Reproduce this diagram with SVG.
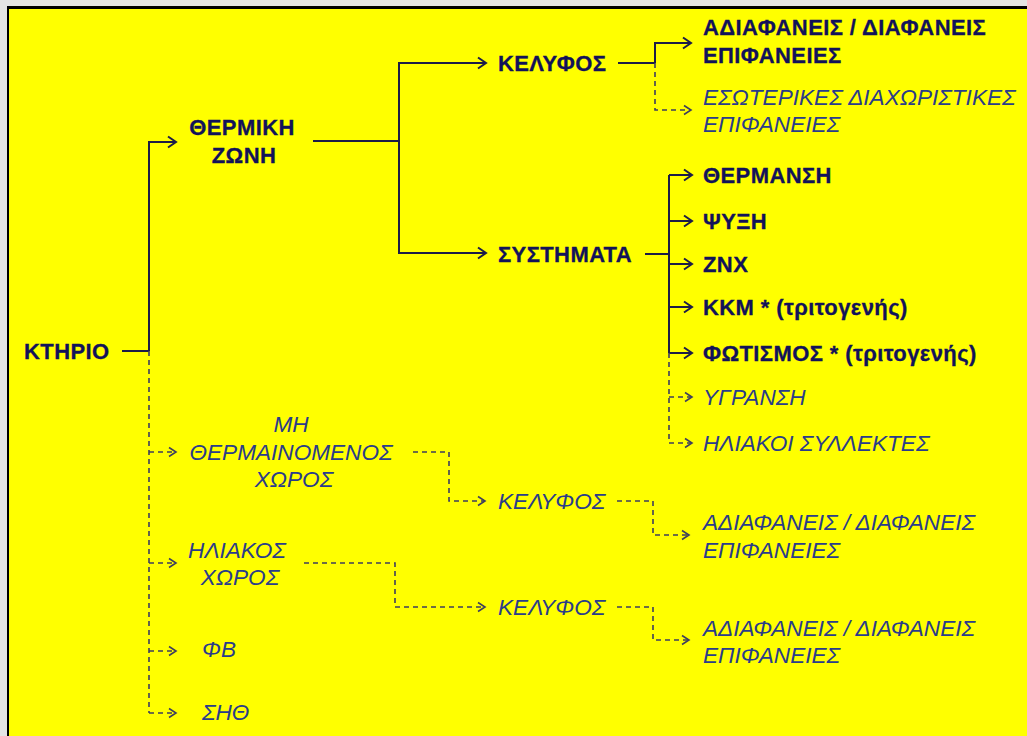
<svg xmlns="http://www.w3.org/2000/svg" width="1027" height="736" viewBox="0 0 1027 736">
<style>
.b{font-family:"Liberation Sans",Arial,sans-serif;font-weight:bold;font-size:22px;letter-spacing:0.4px;fill:#12125a;stroke:#12125a;stroke-width:0.3px}
.i{font-family:"Liberation Sans",Arial,sans-serif;font-style:italic;font-size:22.6px;fill:#2a3c8a}
.s{fill:none;stroke:#1c1c48;stroke-width:2}
.d{fill:none;stroke:#3e3e5e;stroke-width:1.6;stroke-dasharray:5,4}
.sa{marker-end:url(#as)}
.da{marker-end:url(#ad)}
</style>
<defs>
<marker id="as" markerUnits="userSpaceOnUse" markerWidth="12" markerHeight="14" refX="9" refY="6" orient="auto" overflow="visible">
<path d="M1,0.5 L9,6 L1,11.5" fill="none" stroke="#1c1c48" stroke-width="2"/>
</marker>
<marker id="ad" markerUnits="userSpaceOnUse" markerWidth="12" markerHeight="14" refX="8" refY="5" orient="auto" overflow="visible">
<path d="M1,0.5 L8,5 L1,9.5" fill="none" stroke="#3e3e5e" stroke-width="1.6"/>
</marker>
</defs>
<rect x="0" y="0" width="1027" height="736" fill="#e4e4e4"/>
<rect x="7" y="6" width="1020" height="730" fill="#000"/>
<rect x="9" y="9" width="1018" height="727" fill="#ffff00"/>

<g id="connectors">
<path class="s" d="M122,351 H149"/>
<path class="s sa" d="M149,351 V142 H176"/>
<path class="d" d="M149,351 V713"/>
<path class="d da" d="M149,452 H176"/>
<path class="d da" d="M149,563 H176"/>
<path class="d da" d="M149,651 H176"/>
<path class="d da" d="M149,713 H176"/>
<path class="s" d="M313,141 H399"/>
<path class="s sa" d="M399,141 V63 H486"/>
<path class="s sa" d="M399,141 V253 H486"/>
<path class="s" d="M618,63 H655"/>
<path class="s sa" d="M655,63 V43 H691"/>
<path class="d da" d="M655,63 V110 H691"/>
<path class="s" d="M645,254 H669"/>
<path class="s" d="M669,175 V353"/>
<path class="s sa" d="M669,175 H692"/>
<path class="s sa" d="M669,221 H692"/>
<path class="s sa" d="M669,264 H692"/>
<path class="s sa" d="M669,307 H692"/>
<path class="s sa" d="M669,353 H692"/>
<path class="d" d="M669,353 V443"/>
<path class="d da" d="M669,397 H692"/>
<path class="d da" d="M669,443 H692"/>
<path class="d da" d="M413,452 H449 V501 H485"/>
<path class="d" d="M617,501 H653"/>
<path class="d da" d="M653,501 V535 H689"/>
<path class="d da" d="M304,563 H395 V607 H485"/>
<path class="d" d="M617,607 H653"/>
<path class="d da" d="M653,607 V640 H689"/>
</g>

<g id="ktirio"><text class="b" x="24" y="359">ΚΤΗΡΙΟ</text></g>
<g id="thermiki-zoni"><text class="b" x="242" y="135" text-anchor="middle">ΘΕΡΜΙΚΗ</text><text class="b" x="244" y="163" text-anchor="middle">ΖΩΝΗ</text></g>
<g id="kelyfos"><text class="b" x="498" y="71">ΚΕΛΥΦΟΣ</text></g>
<g id="systimata"><text class="b" x="498" y="262">ΣΥΣΤΗΜΑΤΑ</text></g>
<g id="adiafaneis"><text class="b" x="703" y="35">ΑΔΙΑΦΑΝΕΙΣ / ΔΙΑΦΑΝΕΙΣ</text><text class="b" x="703" y="63">ΕΠΙΦΑΝΕΙΕΣ</text></g>
<g id="esoterikes"><text class="i" x="703" y="105">ΕΣΩΤΕΡΙΚΕΣ ΔΙΑΧΩΡΙΣΤΙΚΕΣ</text><text class="i" x="703" y="132">ΕΠΙΦΑΝΕΙΕΣ</text></g>
<g id="thermansi"><text class="b" x="703" y="183">ΘΕΡΜΑΝΣΗ</text></g>
<g id="psyxi"><text class="b" x="703" y="229">ΨΥΞΗ</text></g>
<g id="znx"><text class="b" x="703" y="272">ΖΝΧ</text></g>
<g id="kkm"><text class="b" x="703" y="315">ΚΚΜ * (τριτογενής)</text></g>
<g id="fotismos"><text class="b" x="703" y="361">ΦΩΤΙΣΜΟΣ * (τριτογενής)</text></g>
<g id="ygransi"><text class="i" x="703" y="405">ΥΓΡΑΝΣΗ</text></g>
<g id="iliakoi-syllektes"><text class="i" x="703" y="451">ΗΛΙΑΚΟΙ ΣΥΛΛΕΚΤΕΣ</text></g>
<g id="mi-thermainomenos"><text class="i" x="291" y="432" text-anchor="middle">ΜΗ</text><text class="i" x="291" y="460" text-anchor="middle">ΘΕΡΜΑΙΝΟΜΕΝΟΣ</text><text class="i" x="294" y="487" text-anchor="middle">ΧΩΡΟΣ</text></g>
<g id="kelyfos-2"><text class="i" x="498" y="509">ΚΕΛΥΦΟΣ</text></g>
<g id="adiafaneis-2"><text class="i" x="703" y="530">ΑΔΙΑΦΑΝΕΙΣ / ΔΙΑΦΑΝΕΙΣ</text><text class="i" x="703" y="558">ΕΠΙΦΑΝΕΙΕΣ</text></g>
<g id="iliakos-xoros"><text class="i" x="237" y="558" text-anchor="middle">ΗΛΙΑΚΟΣ</text><text class="i" x="240" y="585" text-anchor="middle">ΧΩΡΟΣ</text></g>
<g id="kelyfos-3"><text class="i" x="498" y="615">ΚΕΛΥΦΟΣ</text></g>
<g id="adiafaneis-3"><text class="i" x="703" y="636">ΑΔΙΑΦΑΝΕΙΣ / ΔΙΑΦΑΝΕΙΣ</text><text class="i" x="703" y="663">ΕΠΙΦΑΝΕΙΕΣ</text></g>
<g id="fv"><text class="i" x="202" y="657">ΦΒ</text></g>
<g id="sith"><text class="i" x="202" y="720">ΣΗΘ</text></g>
</svg>
